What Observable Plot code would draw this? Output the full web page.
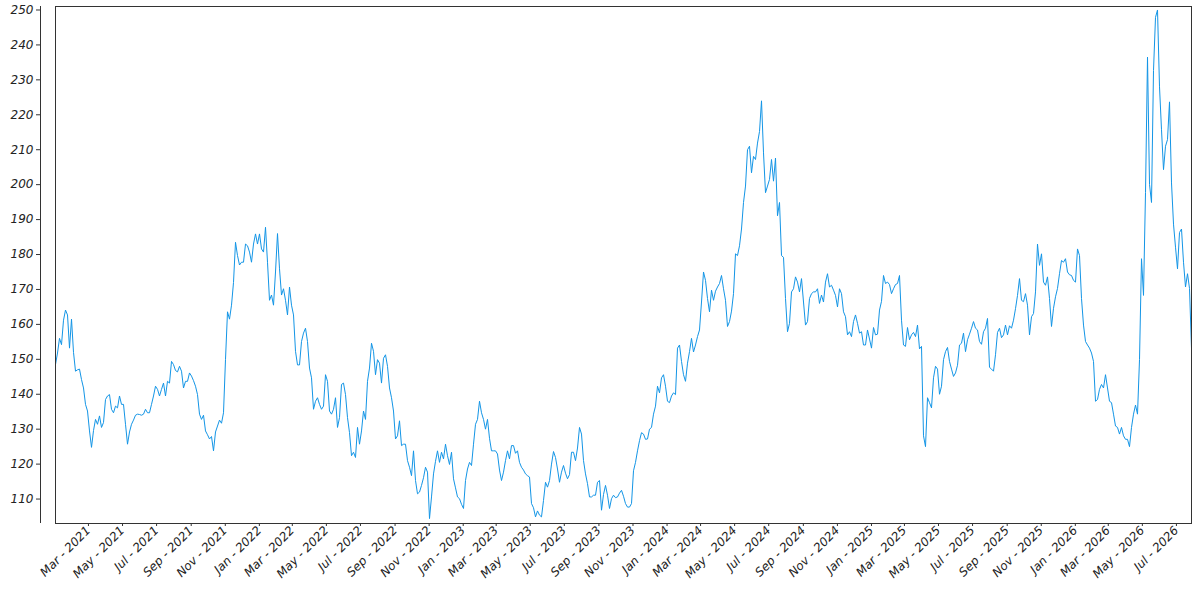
<!DOCTYPE html>
<html><head><meta charset="utf-8">
<script src="https://cdn.jsdelivr.net/npm/d3@7"></script>
<script src="https://cdn.jsdelivr.net/npm/@observablehq/plot@0.6"></script>
<style>body{margin:0;background:#fff} svg text{font-family:"DejaVu Sans";font-style:italic;}</style>
</head><body><div id="chart"></div>
<script>
// Series sampled at a regular step from the start date
const startDate = "2021-01-01";
const stepDays = 3.581;
const values = [
148.5,151.8,156,154.2,161.2,164.1,162.7,153.2,161.5,152,146.6,147,147.2,144.2,141.8,137.1,135.2,129.5,124.8,129.6,
132.8,131.4,133.8,130.5,131.9,138.5,139.5,139.9,135.7,134.7,136.6,136.1,139.5,137.1,137.1,131.4,125.7,129.2,131.4,132.6,
134,134.3,134.2,134,134.3,135.7,134.7,134.7,137.1,139.5,142.3,141.4,139.5,141.4,143.2,139.5,143.7,143.2,149.4,148.5,
146.8,146.4,148,146.6,141.8,143.7,143.7,146.1,145.2,143.9,142.3,139.9,134.3,132.8,134,129.5,128.4,127.2,127.9,123.8,
129.2,130.9,132.6,131.7,134.7,150,163.6,161.5,165.5,172,
183.5,179.7,177,177.8,177.8,183,182.5,180.7,177.8,183,185.9,183,185.9,181.6,180.7,187.8,177.8,166.9,168.4,165.5,
175,186,175.9,168.4,170.2,166.9,162.7,170.7,165.5,162.7,152.3,148.4,148.4,155.1,157.5,158.9,155.1,147.5,144.7,135.7,
138,139,137.1,135.7,136.6,145.6,143.7,135.2,134.3,135.7,139,130.5,133.3,142.8,143.2,139.9,133.3,129,122.4,123.4,
121.9,130.5,125.7,129.5,135.2,132.8,143.7,147.5,154.6,152.3,145.6,149.9,148.9,143.2,150.3,151.3,148,141.8,139,135.2,
127.2,128.1,132.4,125.3,125.7,125.7,121,119.1,116.7,123.8,115.3,111.5,112,
113.9,116.1,119.1,117.7,104.4,110.6,117.2,120.8,123.8,120.5,123.4,121.5,125.7,122.4,119.9,123.4,115.8,113.2,110.6,110.1,
108.5,107.3,115.3,118.6,120.5,119.6,125.7,131.4,132.8,138,134.7,132.8,130,132.8,127.4,123.8,123.8,123.8,122.9,118.3,
115.3,117.7,121,123.8,121.5,125.3,125.3,123.1,123.8,120.5,119.1,118.3,117.2,116.7,116.3,108.7,107.5,104.9,106.6,105.4,
104.9,109.6,114.8,113.4,115.3,120,123.6,121.9,118.6,114.8,117.7,119.6,117.4,115.8,117,123.4,123.4,121,124.6,130.5,
128.6,121,117.2,114.4,110.6,110.6,111.1,111.1,114.8,115.3,106.8,111.3,113.9,111.1,107.3,110.1,111.1,110.4,110.6,111.7,
112.5,110.8,108.7,107.7,107.7,108.7,118.1,120.5,123.8,126.7,129,128.6,127.1,
127.2,130,130.5,134.3,136.6,142.3,140.4,144.7,145.6,142.3,138,137.6,139.5,140.4,139.9,153.2,154.1,149.4,145.6,143.7,
148.9,152.2,156,152.1,154.1,156.5,158.4,166.4,175,172.6,167.4,163.6,169.8,166.9,169.5,170.7,171.7,174,170.2,166.9,
159.4,160.8,163.8,168.8,180.2,179.7,182.5,187.3,194.9,199.6,210,211,203.4,208.1,207.2,211.9,215.2,224,209.1,197.7,
199.6,201.5,207.2,201,207.6,191.1,194.9,179.7,179.2,167.4,157.9,160.3,169.3,170.2,173.6,172.1,169.3,173.1,166.4,159.8,
160.8,167.4,168.8,169.3,169.3,170.2,166,168.4,166.4,172.1,174.5,170.7,
171.2,169.8,168.3,165,170.2,168.8,163.6,162.2,157,157.9,156.5,160.8,162.7,160.3,157.5,157.9,154.1,154.1,158.4,155.8,
153.2,159.1,157,157.2,164.1,166.6,174,171.7,172.1,171.4,168.8,170.2,171.4,171.7,174,161.2,154.1,153.7,159.1,155.6,
157,157.7,156.5,159.8,153,153.7,128.1,125,139,137.6,136.1,144.7,148,147.2,140,142.3,149.9,152.2,153.4,149.4,
147.2,145.1,146.1,148.3,154.1,154.6,157.5,152.2,155.6,157.2,158.9,160.8,158.9,158.4,155.1,154.3,157.9,158.9,161.7,147.7,
147.2,146.6,151.3,157.7,158.9,156.2,157,159.8,157,159.6,158.9,161.2,164.5,
168.3,173.1,166.9,166.5,168.8,165.5,157,162.2,163.1,169.3,183,176.9,180.2,172.1,171.2,173.6,167.4,159.4,164.6,167.9,
170.3,174.5,178.3,177.8,178.8,175,174.2,174,172.6,172.1,181.6,179.7,167.4,159.8,155.1,154.1,153.2,151.8,149.4,138,
138.5,141.4,142.8,141.8,145.6,141.8,138,137.6,134.3,130.9,130.5,128.6,130.5,128.1,127.1,127.1,125,130.5,134.3,136.9,
134.3,149.9,178.8,168.3,197.7,236.5,200.1,194.9,232.7,247.9,250,228,215.7,204.3,211,212.9,223.7,200.5,188.7,182.1,
175.9,186.3,187.3,177.8,170.7,174.5,170.3,153.2
];
const yTicks = [110,120,130,140,150,160,170,180,190,200,210,220,230,240,250];
const xTickDates = [
"2021-03-01","2021-05-01","2021-07-01","2021-09-01","2021-11-01",
"2022-01-01","2022-03-01","2022-05-01","2022-07-01","2022-09-01","2022-11-01",
"2023-01-01","2023-03-01","2023-05-01","2023-07-01","2023-09-01","2023-11-01",
"2024-01-01","2024-03-01","2024-05-01","2024-07-01","2024-09-01","2024-11-01",
"2025-01-01","2025-03-01","2025-05-01","2025-07-01","2025-09-01","2025-11-01",
"2026-01-01","2026-03-01","2026-05-01","2026-07-01"
];

const t0 = new Date(startDate + "T00:00:00Z").getTime();
const DAY = 86400000;
const data = values.map((v, i) => ({date: new Date(t0 + i * stepDays * DAY), value: v}));
const xDomain = [data[0].date, data[data.length - 1].date];
const xTicks = xTickDates.map(s => new Date(s + "T00:00:00Z"));
const fmt = d3.utcFormat("%b - %Y");

const chart = Plot.plot({
  width: 1200,
  height: 600,
  marginLeft: 55,
  marginRight: 9,
  marginTop: 6,
  marginBottom: 77,
  style: {fontFamily: "DejaVu Sans", fontStyle: "italic", fontSize: "12px", color: "#222", background: "#fff"},
  x: {type: "utc", domain: xDomain},
  y: {domain: [103, 251]},
  marks: [
    Plot.lineY(data, {x: "date", y: "value", stroke: "#1395e6", strokeWidth: 1, clip: true}),
    Plot.frame({stroke: "#333"}),
    Plot.ruleX([xDomain[0]], {dx: -15, stroke: "#333"}),
    Plot.axisY({ticks: yTicks, tickSize: 4, tickPadding: 3, dx: -15, label: null, stroke: "#333",
      fontSize: 12, fontStyle: "italic", fill: "#222"}),
    Plot.axisX({ticks: xTicks, tickSize: 3, tickPadding: 2, tickRotate: -45, tickFormat: fmt, label: null, stroke: "#333",
      fontSize: 12, fontStyle: "italic", fill: "#222"})
  ]
});
document.getElementById("chart").appendChild(chart);
</script>
</body></html>
